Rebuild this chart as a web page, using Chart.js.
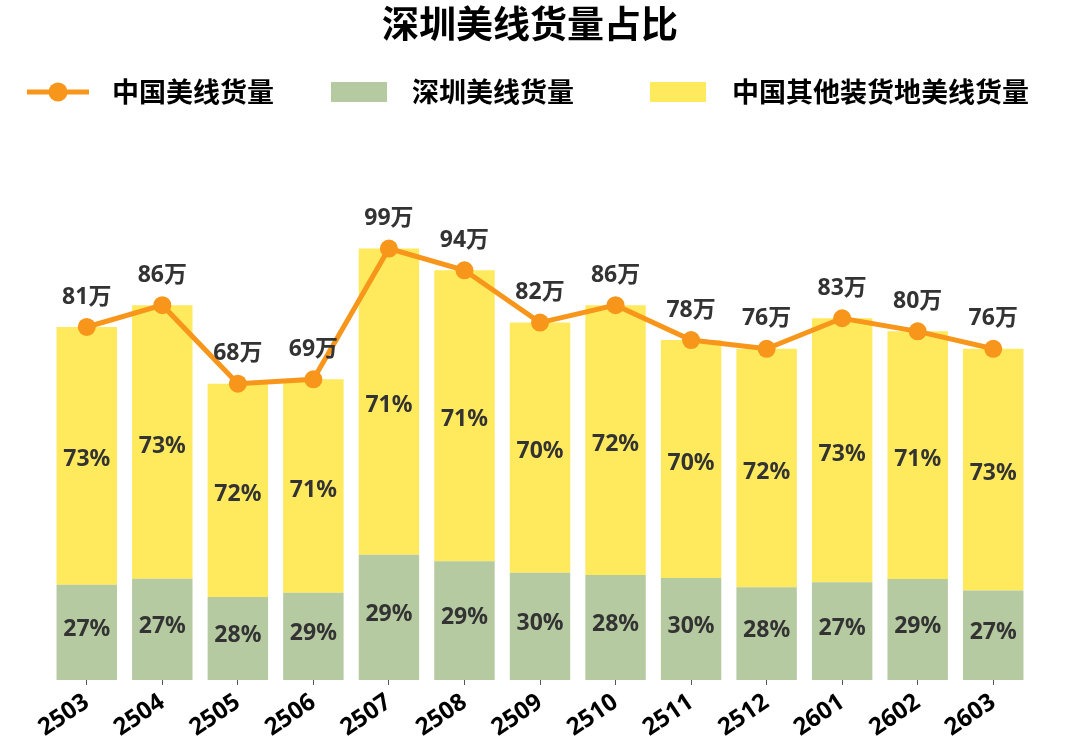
<!DOCTYPE html>
<html>
<head>
<meta charset="utf-8">
<script src="https://cdn.jsdelivr.net/npm/chart.js@4"></script>
<style>
  html, body { margin: 0; padding: 0; background: #fff; }
  #wrap { width: 1080px; height: 744px; }
</style>
</head>
<body>
<div id="wrap"><canvas id="chartJS" width="1080" height="744"></canvas></div>
<script>
// 数据
const months = ['2503', '2504', '2505', '2506', '2507', '2508', '2509', '2510', '2511', '2512', '2601', '2602', '2603'];
const totals = [81, 86, 68, 69, 99, 94, 82, 86, 78, 76, 83, 80, 76];        // 中国美线货量（万）
const szShare = [27, 27, 28, 29, 29, 29, 30, 28, 30, 28, 27, 29, 27];       // 深圳占比 %
const otherShare = [73, 73, 72, 71, 71, 71, 70, 72, 70, 72, 73, 71, 73];    // 其他装货地占比 %

const FONT = "'Noto Sans', 'Noto Sans CJK SC', sans-serif";
const CJK = "'Noto Sans CJK SC', 'Noto Sans', sans-serif";
const ORANGE = '#F7961B';
const GREEN = '#B5CAA0';
const YELLOW = '#FFE95C';

const szVol = totals.map((t, i) => t * szShare[i] / 100);
const otherVol = totals.map((t, i) => t * otherShare[i] / 100);

// 标签 + 标题 + 图例
const labelPlugin = {
  id: 'labels',
  afterDatasetsDraw(chart) {
    const ctx = chart.ctx;
    ctx.save();
    ctx.textAlign = 'center';
    ctx.textBaseline = 'middle';
    ctx.font = 'bold 23px ' + FONT;
    ctx.fillStyle = '#333';
    [1, 2].forEach(di => {
      const shares = di === 1 ? szShare : otherShare;
      chart.getDatasetMeta(di).data.forEach((el, i) => {
        ctx.fillText(shares[i] + '%', el.x, (el.y + el.base) / 2 + (di === 1 ? -3 : 4));
      });
    });
    chart.getDatasetMeta(0).data.forEach((pt, i) => {
      ctx.fillText(totals[i] + '万', pt.x, pt.y - 30);
    });
    ctx.restore();
  },
  afterDraw(chart) {
    const ctx = chart.ctx;
    ctx.save();
    ctx.fillStyle = '#000';
    ctx.textBaseline = 'middle';
    ctx.textAlign = 'center';
    ctx.font = 'bold 37px ' + CJK;
    ctx.fillText('深圳美线货量占比', 530, 24);

    const ly = 92;
    ctx.font = 'bold 27px ' + CJK;
    ctx.textAlign = 'left';
    // line item
    ctx.strokeStyle = ORANGE;
    ctx.lineWidth = 5;
    ctx.beginPath();
    ctx.moveTo(27, ly);
    ctx.lineTo(89, ly);
    ctx.stroke();
    ctx.fillStyle = ORANGE;
    ctx.beginPath();
    ctx.arc(58, ly, 9.5, 0, Math.PI * 2);
    ctx.fill();
    ctx.fillStyle = '#000';
    ctx.fillText(chart.data.datasets[0].label, 112, ly);
    // green
    ctx.fillStyle = GREEN;
    ctx.fillRect(331, ly - 10, 56, 20);
    ctx.fillStyle = '#000';
    ctx.fillText(chart.data.datasets[1].label, 412, ly);
    // yellow
    ctx.fillStyle = YELLOW;
    ctx.fillRect(650, ly - 10, 56, 20);
    ctx.fillStyle = '#000';
    ctx.fillText(chart.data.datasets[2].label, 732, ly);
    ctx.restore();
  }
};

const cfg = {
  type: 'bar',
  data: {
    labels: months,
    datasets: [
      {
        type: 'line',
        label: '中国美线货量',
        data: totals,
        stack: 'total',
        borderColor: ORANGE,
        backgroundColor: ORANGE,
        borderWidth: 5,
        pointRadius: 9,
        pointHoverRadius: 9,
        pointBackgroundColor: ORANGE,
        pointBorderWidth: 0,
        tension: 0,
        order: 0
      },
      {
        label: '深圳美线货量',
        data: szVol,
        stack: 'vol',
        backgroundColor: GREEN,
        barPercentage: 0.8,
        categoryPercentage: 1.0,
        order: 1
      },
      {
        label: '中国其他装货地美线货量',
        data: otherVol,
        stack: 'vol',
        backgroundColor: YELLOW,
        barPercentage: 0.8,
        categoryPercentage: 1.0,
        order: 1
      }
    ]
  },
  options: {
    responsive: false,
    animation: false,
    layout: { padding: { top: 157, left: 49, right: 49, bottom: 0 } },
    plugins: {
      legend: { display: false },
      title: { display: false },
      tooltip: { enabled: false }
    },
    scales: {
      x: {
        stacked: true,
        border: { display: false },
        grid: { display: true, drawOnChartArea: false, drawTicks: true, tickLength: 5, offset: false, color: '#555', lineWidth: 1 },
        ticks: {
          color: '#000',
          font: { family: FONT, size: 24, weight: 'bold' },
          minRotation: 34,
          maxRotation: 34,
          padding: 3
        },
        afterFit(scale) { scale.height = 64; }
      },
      y: {
        stacked: true,
        display: false,
        min: 0,
        max: 120
      }
    }
  },
  plugins: [labelPlugin]
};

new Chart(document.getElementById('chartJS'), cfg);
</script>
</body>
</html>
